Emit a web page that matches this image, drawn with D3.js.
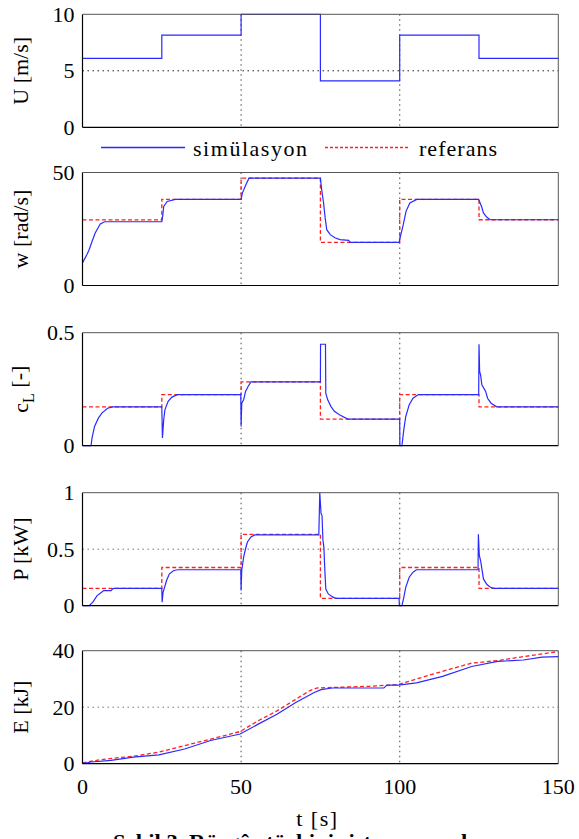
<!DOCTYPE html>
<html lang="tr">
<head>
<meta charset="UTF-8">
<script src="https://d3js.org/d3.v7.min.js"></script>
<title>Simülasyon ve referans</title>
<style>
  body { margin: 0; background: #fff; }
</style>
</head>
<body>
<svg id="chart" width="579" height="839"></svg>
<script>
// step inputs and references (value held from each time on)
const stepTimes = [0, 25, 50, 75, 100, 125, 150];
const uSim  = [6.1, 8.15, 10, 4.1, 8.15, 6.1, 6.1];
const wRef  = [29, 38.1, 47.5, 19.1, 38.1, 29.1, 29.1];
const cLRef = [0.172, 0.226, 0.282, 0.118, 0.226, 0.172, 0.172];
const pRef  = [0.154, 0.338, 0.632, 0.065, 0.338, 0.154, 0.154];

// simulated responses
const wSimT = [0, 1.4, 2, 3, 4, 5.6, 7, 25, 25.3, 25.6, 26.7, 29.3, 50, 50.4, 51.5, 52.5, 75, 75.4, 76, 76.5, 77, 78.1, 79.7, 81.2, 83.9, 84.4, 99.8, 100.1, 101.1, 102, 103.2, 105.4, 124.9, 125.8, 126.4, 127.4, 128.5, 150];
const wSimV = [10, 13.7, 15.5, 19.5, 23.2, 27.2, 28.2, 28.2, 31, 35, 37.2, 38.1, 38.1, 40.9, 44.6, 47.5, 47.5, 42.4, 36.5, 29.9, 24.7, 22.5, 21, 20.3, 20, 19.1, 19.1, 21, 26.8, 32.8, 36.5, 38.1, 38.1, 35, 32.1, 30.3, 29.1, 29.1];

const cLSimT = [0, 2.7, 3, 3.8, 5, 6.1, 7.9, 9.6, 25, 25.2, 25.6, 26, 27, 28.2, 29.9, 49.9, 50, 50.2, 50.8, 51.4, 52.2, 53.1, 75, 75.05, 76.6, 76.7, 77.3, 78.3, 79.4, 81, 83.6, 100, 100.05, 100.7, 101.3, 101.9, 103, 104.2, 105.9, 124.9, 125, 125.2, 125.5, 125.9, 127.1, 127.7, 128.8, 130.6, 150];
const cLSimV = [0, 0, 0.034, 0.085, 0.122, 0.144, 0.166, 0.172, 0.172, 0.034, 0.115, 0.16, 0.196, 0.215, 0.226, 0.226, 0.085, 0.188, 0.203, 0.24, 0.262, 0.282, 0.282, 0.449, 0.449, 0.233, 0.203, 0.174, 0.152, 0.137, 0.118, 0.118, 0, 0, 0.071, 0.129, 0.181, 0.21, 0.226, 0.226, 0.449, 0.328, 0.313, 0.269, 0.24, 0.21, 0.188, 0.172, 0.172];

const pSimT = [0, 2.1, 3.2, 4.6, 5.6, 6.7, 9, 9.6, 10.2, 25, 25.1, 25.4, 26.5, 27.4, 28.8, 30, 49.9, 50, 50.2, 50.8, 51.4, 52, 53.1, 54.3, 74.5, 74.8, 75.2, 75.5, 75.8, 76.1, 76.4, 76.7, 77.5, 78.7, 79.8, 99.8, 99.9, 100.7, 101.3, 101.9, 103, 104.2, 105.3, 124.7, 124.8, 125.1, 125.5, 126.4, 127.5, 128.6, 129.7, 150];
const pSimV = [0, 0, 0.03, 0.089, 0.11, 0.134, 0.134, 0.151, 0.154, 0.154, 0.03, 0.119, 0.223, 0.282, 0.312, 0.318, 0.318, 0.134, 0.312, 0.43, 0.504, 0.564, 0.608, 0.626, 0.626, 1.0, 0.816, 0.8, 0.579, 0.519, 0.312, 0.148, 0.104, 0.08, 0.065, 0.065, 0, 0, 0.074, 0.163, 0.252, 0.297, 0.318, 0.318, 0.632, 0.445, 0.4, 0.237, 0.187, 0.163, 0.154, 0.154];

const eRefT = [0, 4.4, 10.2, 16, 24.1, 32.2, 40.4, 49.7, 55.4, 61.3, 67.1, 71.7, 74, 90.3, 99.5, 105.3, 113.5, 122.7, 130.9, 139, 150];
const eRefV = [0.3, 1.2, 2.0, 2.6, 4.1, 6.4, 8.7, 11.4, 15.2, 18.7, 22.7, 25.9, 26.8, 27.4, 28.0, 30.0, 32.7, 35.6, 36.5, 37.9, 39.7];
const eSimT = [0, 2.7, 9, 16, 24.1, 32.2, 40.4, 49.7, 55.4, 61.3, 67.1, 72.9, 75.2, 78.7, 95, 96, 99.5, 105.3, 113.5, 122.7, 130.9, 139, 144.8, 150];
const eSimV = [0, 0.6, 1.2, 2.3, 3.1, 5.2, 8.2, 10.5, 14.0, 17.5, 21.6, 25.1, 26.2, 26.8, 26.8, 27.8, 27.8, 28.6, 30.9, 34.4, 36.2, 36.7, 37.7, 37.9];

const tTicks = [0, 50, 100, 150];

const zip = (t, v) => t.map((d, i) => [d, v[i]]);

const panels = [
  { label: "U [m/s]", domain: [0, 10], ticks: [0, 5, 10], hgrid: [5], hgridColor: "#222",
    sim: zip(stepTimes, uSim), simStep: true, ref: null, top: 14.3 },
  { label: "w [rad/s]", domain: [0, 50], ticks: [0, 50], hgrid: [],
    sim: zip(wSimT, wSimV), ref: zip(stepTimes, wRef), refStep: true, top: 172.5 },
  { label: "cL", domain: [0, 0.5], ticks: [0, 0.5], hgrid: [],
    sim: zip(cLSimT, cLSimV), ref: zip(stepTimes, cLRef), refStep: true, top: 332.7 },
  { label: "P [kW]", domain: [0, 1], ticks: [0, 0.5, 1], hgrid: [0.5], hgridColor: "#777",
    sim: zip(pSimT, pSimV), ref: zip(stepTimes, pRef), refStep: true, top: 492.7 },
  { label: "E [kJ]", domain: [0, 40], ticks: [0, 20, 40], hgrid: [20], hgridColor: "#777",
    sim: zip(eSimT, eSimV), ref: zip(eRefT, eRefV), refStep: false, top: 650.7 }
];

const svg = d3.select("#chart");
const left = 82.5, right = 558.3, panelH = 113;
const blue = "#2a2aff", red = "#ff2020";
const serif = "'Liberation Serif', 'Times New Roman', serif";

// every text gets its font set directly on the element
function addText(sel, size) {
  return sel.append("text")
    .attr("font-family", serif)
    .style("font-family", serif)
    .attr("font-size", size)
    .attr("fill", "#000");
}

const x = d3.scaleLinear().domain([0, 150]).range([left, right]);

panels.forEach((p, i) => {
  const y = d3.scaleLinear().domain(p.domain).range([p.top + panelH, p.top]);
  const g = svg.append("g");

  // vertical grid at 50 and 100
  g.selectAll(".vgrid").data([50, 100]).enter().append("line")
    .attr("x1", d => x(d)).attr("x2", d => x(d))
    .attr("y1", p.top).attr("y2", p.top + panelH)
    .attr("stroke", "#666").attr("stroke-width", 1.2).attr("stroke-dasharray", "1.5,3.5");

  g.selectAll(".hgrid").data(p.hgrid).enter().append("line")
    .attr("x1", left).attr("x2", right)
    .attr("y1", d => y(d)).attr("y2", d => y(d))
    .attr("stroke", p.hgridColor).attr("stroke-width", 1).attr("stroke-dasharray", "1.5,3.5");

  const line = d3.line().x(d => x(d[0])).y(d => y(d[1]));

  if (p.ref) {
    g.append("path").datum(p.ref)
      .attr("d", line.curve(p.refStep ? d3.curveStepAfter : d3.curveLinear))
      .attr("fill", "none").attr("stroke", red).attr("stroke-width", 1.3)
      .attr("stroke-dasharray", "4,2.5");
  }
  g.append("path").datum(p.sim)
    .attr("d", line.curve(p.simStep ? d3.curveStepAfter : d3.curveLinear))
    .attr("fill", "none").attr("stroke", blue).attr("stroke-width", 1.2);

  // frame: left/bottom black, top/right gray
  g.append("line").attr("x1", left).attr("x2", left).attr("y1", p.top).attr("y2", p.top + panelH)
    .attr("stroke", "#000").attr("stroke-width", 1.2);
  g.append("line").attr("x1", left).attr("x2", right).attr("y1", p.top + panelH).attr("y2", p.top + panelH)
    .attr("stroke", "#000").attr("stroke-width", 1.2);
  g.append("line").attr("x1", left).attr("x2", right).attr("y1", p.top).attr("y2", p.top)
    .attr("stroke", "#555").attr("stroke-width", 1);
  g.append("line").attr("x1", right).attr("x2", right).attr("y1", p.top).attr("y2", p.top + panelH)
    .attr("stroke", "#555").attr("stroke-width", 1);

  // y tick labels
  p.ticks.forEach(v => {
    addText(g, 22)
      .attr("x", left - 8).attr("y", y(v))
      .attr("dy", "0.34em")
      .attr("text-anchor", "end")
      .text(v);
  });

  // y axis label
  const lab = addText(g, 22)
    .attr("transform", `translate(28,${p.top + panelH / 2}) rotate(-90)`)
    .attr("text-anchor", "middle");
  if (p.label === "cL") {
    lab.append("tspan").text("c");
    lab.append("tspan").attr("font-size", 16).attr("dy", "0.35em").text("L");
    lab.append("tspan").attr("dy", "-0.35em").text(" [-]");
  } else {
    lab.text(p.label);
  }

  if (i === panels.length - 1) {
    tTicks.forEach(t => {
      addText(g, 22)
        .attr("x", x(t)).attr("y", p.top + panelH + 30)
        .attr("text-anchor", "middle")
        .text(t);
    });
    addText(g, 22)
      .attr("x", (left + right) / 2 - 3).attr("y", 826)
      .attr("text-anchor", "middle")
      .attr("letter-spacing", "1.5px")
      .text("t [s]");
  }
});

// legend
const leg = svg.append("g");
leg.append("line").attr("x1", 101).attr("x2", 185).attr("y1", 147.5).attr("y2", 147.5)
  .attr("stroke", blue).attr("stroke-width", 1.5);
addText(leg, 22).attr("x", 193).attr("y", 156)
  .attr("textLength", 114).attr("lengthAdjust", "spacing").text("simülasyon");
leg.append("line").attr("x1", 325).attr("x2", 408).attr("y1", 147.5).attr("y2", 147.5)
  .attr("stroke", red).attr("stroke-width", 1.3).attr("stroke-dasharray", "3,2");
addText(leg, 22).attr("x", 419).attr("y", 156)
  .attr("textLength", 78).attr("lengthAdjust", "spacing").text("referans");

// caption, cut by the bottom edge of the page as in the source
addText(svg, 21)
  .attr("x", 113).attr("y", 849)
  .attr("font-weight", "bold")
  .attr("textLength", 382).attr("lengthAdjust", "spacingAndGlyphs")
  .text("Şekil 3. Rüzgâr türbini sistem cevapları");
</script>
</body>
</html>
